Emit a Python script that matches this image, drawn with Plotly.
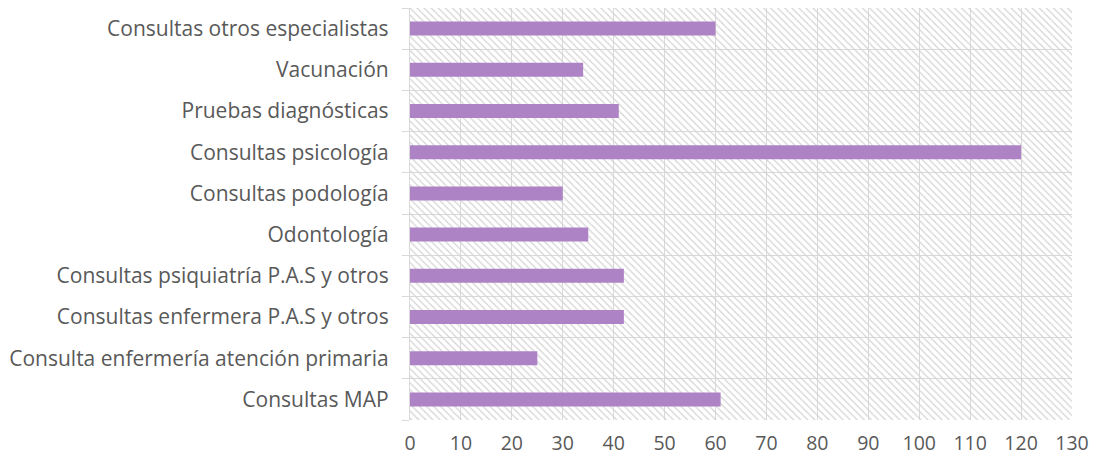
import plotly.graph_objects as go

categories = [
    "Consultas MAP",
    "Consulta enfermería atención primaria",
    "Consultas enfermera P.A.S y otros",
    "Consultas psiquiatría P.A.S y otros",
    "Odontología",
    "Consultas podología",
    "Consultas psicología",
    "Pruebas diagnósticas",
    "Vacunación",
    "Consultas otros especialistas",
]
values = [61, 25, 42, 42, 35, 30, 120, 41, 34, 60]
x_ticks = list(range(0, 131, 10))

X_MAX = 130
n = len(categories)
positions = list(range(n))

BAR_COLOR = "#AD83C6"
TEXT_COLOR = "#595959"
GRID_COLOR = "#D9D9D9"
FONT = "Open Sans"

fig = go.Figure()

# hatched plot-area background
fig.add_trace(go.Bar(
    x=[X_MAX], y=[(n - 1) / 2], width=[n], base=[0], orientation="h",
    marker=dict(color="rgba(0,0,0,0)", line=dict(width=0),
                pattern=dict(shape="\\", fgcolor="#D4D4D4", bgcolor="rgba(0,0,0,0)",
                             size=5, solidity=0.25, fillmode="replace")),
    hoverinfo="skip", showlegend=False,
))

fig.add_trace(go.Bar(
    x=values, y=positions, orientation="h", width=0.34,
    marker=dict(color=BAR_COLOR, line=dict(width=0)),
    showlegend=False,
))

fig.update_layout(
    width=1089, height=451,
    margin=dict(l=402, r=25, t=0, b=39),
    paper_bgcolor="white", plot_bgcolor="white",
    barmode="overlay",
    font=dict(family=FONT, size=19, color=TEXT_COLOR),
    xaxis=dict(
        range=[0, X_MAX], tickvals=x_ticks, showgrid=True, gridcolor=GRID_COLOR,
        gridwidth=1.3, zeroline=False, showline=False, ticks="",
        ticklabelstandoff=9,
        tickfont=dict(family=FONT, size=19.5, color=TEXT_COLOR),
    ),
    yaxis=dict(
        range=[-0.5, n - 0.5], tickvals=positions, ticktext=categories,
        showgrid=False, zeroline=False, showline=True, linecolor=GRID_COLOR,
        linewidth=1.3, ticks="", ticklabelstandoff=16,
        tickfont=dict(family=FONT, size=21, color=TEXT_COLOR),
        minor=dict(tick0=0.5, dtick=1, showgrid=True, gridcolor=GRID_COLOR,
                   gridwidth=1.3, ticks="outside", ticklen=7, tickcolor=GRID_COLOR,
                   tickwidth=1.3),
    ),
)

fig.write_html("out.html")
